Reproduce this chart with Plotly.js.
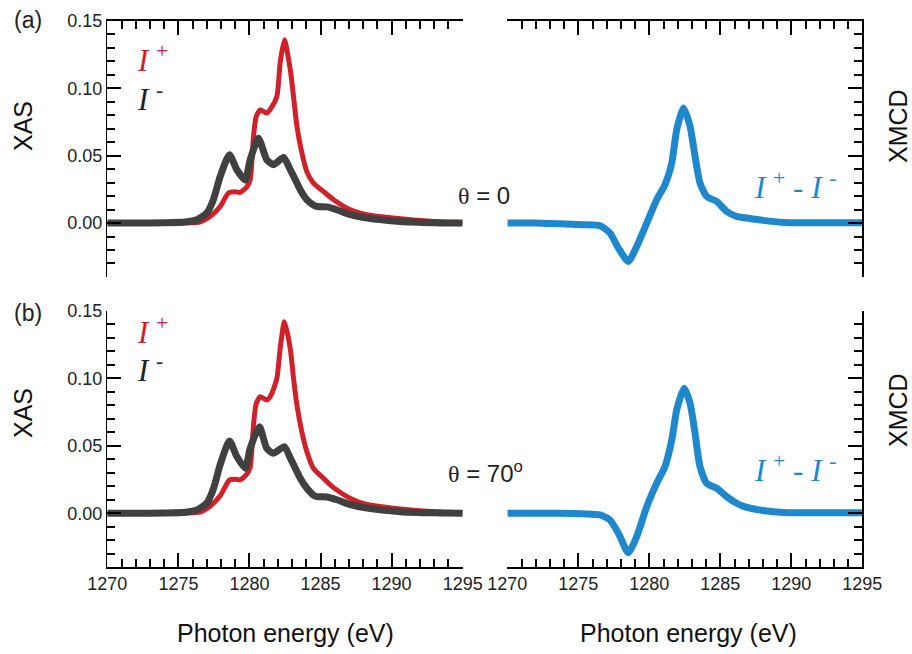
<!DOCTYPE html>
<html>
<head>
<meta charset="utf-8">
<script src="https://cdn.plot.ly/plotly-3.0.1.min.js"></script>
<style>html,body{margin:0;padding:0;background:#fff;}#chart{width:912px;height:654px;}</style>
</head>
<body>
<div id="chart"></div>
<script>
// ---- Data (photon energy in eV, intensity) ----
// (a) theta = 0
const energyAPlus = [1270, 1272, 1274, 1275.5, 1276.5, 1277.23, 1277.94, 1278.52, 1279.0, 1279.35, 1279.82, 1280.05, 1280.28, 1280.47, 1280.75, 1281.0, 1281.22, 1281.5, 1281.93, 1282.16, 1282.46, 1282.87, 1283.1, 1283.34, 1283.69, 1284.04, 1284.5, 1285.2, 1285.92, 1287.1, 1288.27, 1290.1, 1293, 1295];
const xasAPlus    = [0, 0, 0, 0.0002, 0.0008, 0.0049, 0.0123, 0.0223, 0.0232, 0.0228, 0.027, 0.032, 0.064, 0.079, 0.084, 0.0828, 0.0817, 0.085, 0.094, 0.119, 0.136, 0.114, 0.094, 0.0717, 0.052, 0.038, 0.0297, 0.0235, 0.0173, 0.0099, 0.0062, 0.0037, 0.0012, 0.0005];
const energyAMinus = [1270, 1272, 1274, 1275.5, 1276.3, 1277.0, 1277.46, 1277.94, 1278.59, 1279.11, 1279.7, 1280.05, 1280.63, 1281.22, 1281.69, 1282.4, 1282.87, 1283.34, 1283.57, 1284.04, 1284.5, 1284.75, 1285.45, 1286.15, 1287.1, 1288.27, 1290.6, 1293, 1295];
const xasAMinus    = [0, 0, 0.0002, 0.0008, 0.0025, 0.0074, 0.0173, 0.0346, 0.0507, 0.0396, 0.032, 0.047, 0.063, 0.047, 0.0433, 0.0487, 0.0396, 0.0297, 0.0247, 0.0173, 0.0135, 0.0123, 0.0120, 0.0099, 0.0062, 0.0037, 0.0012, 0.0003, 0];
const energyAXmcd = [1270, 1272, 1273.7, 1275.3, 1276.53, 1277.23, 1277.82, 1278.52, 1279.11, 1279.82, 1280.52, 1281.1, 1281.58, 1281.93, 1282.4, 1282.87, 1283.22, 1283.57, 1284.04, 1284.75, 1285.45, 1286.15, 1286.6, 1288.0, 1289.45, 1292, 1295];
const xmcdA       = [0, 0, -0.0005, -0.0012, -0.002, -0.0074, -0.0186, -0.0285, -0.0174, 0, 0.0173, 0.0284, 0.0446, 0.0693, 0.0854, 0.0717, 0.0495, 0.0297, 0.0198, 0.016, 0.0086, 0.0049, 0.0042, 0.002, 0.0005, 0.0003, 0.0003];

// (b) theta = 70 deg
const energyBPlus = [1270, 1272, 1274, 1275.5, 1276.5, 1277.23, 1277.94, 1278.6, 1279.0, 1279.35, 1279.82, 1280.05, 1280.28, 1280.47, 1280.75, 1281.0, 1281.22, 1281.5, 1281.93, 1282.16, 1282.46, 1282.87, 1283.1, 1283.34, 1283.69, 1284.04, 1284.5, 1285.2, 1285.92, 1287.1, 1288.27, 1290.1, 1293, 1295];
const xasBPlus    = [0, 0, 0, 0.0002, 0.0008, 0.0052, 0.013, 0.0247, 0.0252, 0.0247, 0.029, 0.034, 0.065, 0.081, 0.0863, 0.085, 0.0839, 0.087, 0.1, 0.122, 0.1419, 0.122, 0.1, 0.080, 0.060, 0.0456, 0.0333, 0.026, 0.019, 0.011, 0.0065, 0.0038, 0.0012, 0.0005];
const energyBMinus = [1270, 1272, 1274, 1275.5, 1276.3, 1277.0, 1277.46, 1277.94, 1278.59, 1279.11, 1279.7, 1280.05, 1280.7, 1281.22, 1281.69, 1282.45, 1282.87, 1283.34, 1283.57, 1284.04, 1284.5, 1284.75, 1285.45, 1286.15, 1287.1, 1288.27, 1290.6, 1293, 1295];
const xasBMinus    = [0, 0, 0.0002, 0.0008, 0.0025, 0.0075, 0.018, 0.036, 0.0535, 0.042, 0.0333, 0.048, 0.064, 0.048, 0.0444, 0.0493, 0.041, 0.0308, 0.026, 0.0185, 0.0135, 0.0123, 0.0121, 0.0100, 0.0064, 0.0038, 0.0012, 0.0003, 0];
const energyBXmcd = [1270, 1272, 1273.7, 1275.3, 1276.53, 1277.23, 1277.82, 1278.52, 1279.11, 1279.82, 1280.52, 1281.1, 1281.58, 1281.93, 1282.45, 1282.87, 1283.22, 1283.57, 1284.04, 1284.75, 1285.45, 1286.15, 1286.8, 1288.0, 1289.45, 1292, 1295];
const xmcdB       = [0, 0, 0, -0.0004, -0.0012, -0.005, -0.0148, -0.0292, -0.0173, 0.0049, 0.0222, 0.0345, 0.0543, 0.0765, 0.0925, 0.0814, 0.0592, 0.0345, 0.0222, 0.0185, 0.0123, 0.0074, 0.0045, 0.002, 0.0005, 0.0003, 0.0003];

// Axis ticks: major every 5 eV / 0.05, minor every 1 eV / 0.01
const xTickStart = 1270, xMajorStep = 5, xMinorStep = 1;
const yTickStart = 0, yMajorStep = 0.05, yMinorStep = 0.01;

// ---- Styles ----
const RED = '#cf2129', DARK = '#404040', BLUE = '#1f87cb', AXC = '#000000';

function line(x, y, color, width, xa, ya, name) {
  return {x: x, y: y, type: 'scatter', mode: 'lines', name: name,
          line: {color: color, width: width, shape: 'spline', smoothing: 0.6},
          xaxis: xa, yaxis: ya};
}

const traces = [
  line(energyAPlus, xasAPlus, RED, 5, 'x', 'y', 'I+ (a)'),
  line(energyAMinus, xasAMinus, DARK, 7, 'x', 'y', 'I- (a)'),
  line(energyAXmcd, xmcdA, BLUE, 7, 'x2', 'y2', 'XMCD (a)'),
  line(energyBPlus, xasBPlus, RED, 5, 'x3', 'y3', 'I+ (b)'),
  line(energyBMinus, xasBMinus, DARK, 7, 'x3', 'y3', 'I- (b)'),
  line(energyBXmcd, xmcdB, BLUE, 7, 'x4', 'y4', 'XMCD (b)')
];

const tickFont = {family: 'Liberation Sans, Arial, sans-serif', size: 18, color: '#222'};

function xAxis(domain, anchor, side, labels) {
  return {domain: domain, anchor: anchor, side: side, range: [1270, 1295],
          showgrid: false, zeroline: false, showline: true, linecolor: AXC, linewidth: 1.5,
          ticks: 'inside', ticklen: 14, tickwidth: 2, tickcolor: AXC, layer: 'above traces',
          tickmode: 'linear', tick0: xTickStart, dtick: xMajorStep,
          showticklabels: labels, tickfont: tickFont,
          minor: {tickmode: 'linear', tick0: xTickStart, dtick: xMinorStep, ticks: 'inside', ticklen: 8, tickwidth: 2, tickcolor: AXC, showgrid: false}};
}
function yAxis(domain, anchor, side, labels) {
  return {domain: domain, anchor: anchor, side: side, range: [-0.04, 0.15],
          showgrid: false, zeroline: false, showline: true, linecolor: AXC, linewidth: 1.5,
          ticks: 'inside', ticklen: 14, tickwidth: 2, tickcolor: AXC, layer: 'above traces',
          tickmode: 'linear', tick0: yTickStart, dtick: yMajorStep, tickformat: '.2f',
          showticklabels: labels, tickfont: tickFont,
          minor: {tickmode: 'linear', tick0: yTickStart, dtick: yMinorStep, ticks: 'inside', ticklen: 8, tickwidth: 2, tickcolor: AXC, showgrid: false}};
}

const LX = [0.1177, 0.5073], RX = [0.5563, 0.9455];
const TY = [0.5765, 0.9679], BY = [0.1326, 0.5249];

const sans = 'Liberation Sans, Arial, sans-serif';
const serif = 'Liberation Serif, Times New Roman, serif';

function ann(text, x, y, opts) {
  return Object.assign({text: text, x: x, y: y, xref: 'paper', yref: 'paper', showarrow: false,
    xanchor: 'center', yanchor: 'middle', font: {family: sans, size: 22, color: '#222'}}, opts || {});
}

const annotations = [
  ann('(a)', 0.0307, 0.9694, {font: {family: sans, size: 23, color: '#222'}}),
  ann('(b)', 0.0307, 0.5214, {font: {family: sans, size: 23, color: '#222'}}),
  ann('XAS', 0.0252, 0.8073, {textangle: -90, font: {family: sans, size: 25, color: '#111'}}),
  ann('XAS', 0.0252, 0.3685, {textangle: -90, font: {family: sans, size: 25, color: '#111'}}),
  ann('XMCD', 0.9846, 0.8073, {textangle: -90, font: {family: sans, size: 25, color: '#111'}}),
  ann('XMCD', 0.9846, 0.3731, {textangle: -90, font: {family: sans, size: 25, color: '#111'}}),
  ann('Photon energy (eV)', 0.3125, 0.0321, {font: {family: sans, size: 25, color: '#111'}}),
  ann('Photon energy (eV)', 0.7544, 0.0321, {font: {family: sans, size: 25, color: '#111'}}),
  ann('<span style="font-family:Liberation Serif">θ</span> = 0', 0.5307, 0.7018, {font: {family: sans, size: 24, color: '#222'}}),
  ann('<span style="font-family:Liberation Serif">θ</span> = 70<sup>o</sup>', 0.5318, 0.2783, {font: {family: sans, size: 24, color: '#222'}}),
  ann('<i>I</i> <sup>+</sup>', 0.1480, 0.9113, {xanchor: 'left', font: {family: serif, size: 31, color: RED}}),
  ann('<i>I</i> <sup>-</sup>', 0.1480, 0.8502, {xanchor: 'left', font: {family: serif, size: 31, color: '#222'}}),
  ann('<i>I</i> <sup>+</sup>', 0.1480, 0.4954, {xanchor: 'left', font: {family: serif, size: 31, color: RED}}),
  ann('<i>I</i> <sup>-</sup>', 0.1480, 0.4358, {xanchor: 'left', font: {family: serif, size: 31, color: '#222'}}),
  ann('<i>I</i> <sup>+</sup> - <i>I</i> <sup>-</sup>', 0.8717, 0.7156, {font: {family: serif, size: 31, color: BLUE}}),
  ann('<i>I</i> <sup>+</sup> - <i>I</i> <sup>-</sup>', 0.8717, 0.2829, {font: {family: serif, size: 31, color: BLUE}})
];

const layout = {
  width: 912, height: 654,
  margin: {l: 0, r: 0, t: 0, b: 0},
  showlegend: false,
  xaxis: xAxis(LX, 'y', 'top', false),
  yaxis: yAxis(TY, 'x', 'left', true),
  xaxis2: xAxis(RX, 'y2', 'top', false),
  yaxis2: yAxis(TY, 'x2', 'right', false),
  xaxis3: xAxis(LX, 'y3', 'bottom', true),
  yaxis3: yAxis(BY, 'x3', 'left', true),
  xaxis4: xAxis(RX, 'y4', 'bottom', true),
  yaxis4: yAxis(BY, 'x4', 'right', false),
  annotations: annotations
};

Plotly.newPlot('chart', traces, layout, {staticPlot: true});
</script>
</body>
</html>
